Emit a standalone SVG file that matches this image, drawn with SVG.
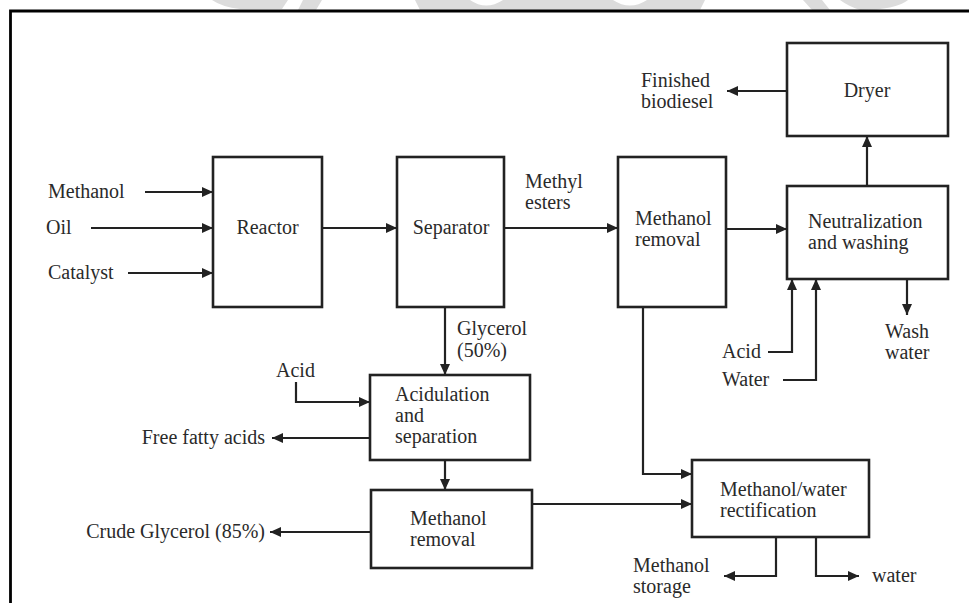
<svg xmlns="http://www.w3.org/2000/svg" width="969" height="603" viewBox="0 0 969 603">
<style>
.box{fill:#fff;stroke:#222;stroke-width:2.6}
.ln{fill:none;stroke:#222;stroke-width:2.2}
.arr{marker-end:url(#ah)}
text{font-family:"Liberation Serif","Times New Roman",serif;font-size:20px;fill:#2a2a2a}
.c{text-anchor:middle}
.e{text-anchor:end}
.wm{fill:#dcdcdc}
</style>
<defs>
<marker id="ah" markerUnits="userSpaceOnUse" markerWidth="11" markerHeight="10" refX="11" refY="5" orient="auto">
<path d="M0,0 L11,5 L0,10 Z" fill="#222"/>
</marker>
</defs>
<rect x="0" y="0" width="969" height="603" fill="#fff"/>
<g id="watermark">
<path class="wm" d="M212,0 H288 L282,9 H240 Q222,7 212,0 Z"/>
<path class="wm" d="M303,0 H322 L316,10 H298 Z"/>
<path class="wm" d="M415,0 H470 Q486,11 503,0 H613 Q630,11 647,0 H705 L700,10 H420 Z"/>
<path class="wm" d="M803,0 H822 L830,10 H812 Z"/>
<path class="wm" d="M840,0 H908 Q896,10 860,10 Q848,6 840,0 Z"/>
</g>
<g id="frame">
<path d="M10.5,603 V11 H969" fill="none" stroke="#000" stroke-width="2.8"/>
</g>
<g id="connectors">
<path class="ln arr" d="M145,192 H213"/>
<path class="ln arr" d="M91,228 H213"/>
<path class="ln arr" d="M128,273 H213"/>
<path class="ln arr" d="M322,228 H397"/>
<path class="ln arr" d="M504,228 H618"/>
<path class="ln arr" d="M726,229 H787"/>
<path class="ln arr" d="M867,186 V136"/>
<path class="ln arr" d="M787,91 H727"/>
<path class="ln arr" d="M768,352 H792 V279"/>
<path class="ln arr" d="M783,380 H816 V279"/>
<path class="ln arr" d="M907,279 V315"/>
<path class="ln arr" d="M445,307 V375"/>
<path class="ln arr" d="M296,382 V402 H370"/>
<path class="ln arr" d="M370,438 H272"/>
<path class="ln arr" d="M445,460 V490"/>
<path class="ln arr" d="M371,532 H270"/>
<path class="ln arr" d="M532,504 H692"/>
<path class="ln arr" d="M643,307 V474 H692"/>
<path class="ln arr" d="M776,537 V576 H724"/>
<path class="ln arr" d="M816,537 V576 H859"/>
</g>
<g id="reactor">
<rect class="box" x="213" y="157" width="109" height="150"/>
<text class="c" x="267.5" y="234">Reactor</text>
</g>
<g id="separator">
<rect class="box" x="397" y="157" width="107" height="150"/>
<text class="c" x="451" y="234">Separator</text>
</g>
<g id="methanol-removal-1">
<rect class="box" x="618" y="157" width="108" height="150"/>
<text x="635" y="225">Methanol</text>
<text x="635" y="246">removal</text>
</g>
<g id="dryer">
<rect class="box" x="787" y="43" width="161" height="93"/>
<text class="c" x="867" y="97">Dryer</text>
</g>
<g id="neutralization">
<rect class="box" x="787" y="186" width="161" height="93"/>
<text x="808" y="228">Neutralization</text>
<text x="808" y="249">and washing</text>
</g>
<g id="acidulation">
<rect class="box" x="370" y="375" width="160" height="85"/>
<text x="395" y="401">Acidulation</text>
<text x="395" y="422">and</text>
<text x="395" y="443">separation</text>
</g>
<g id="methanol-removal-2">
<rect class="box" x="371" y="490" width="161" height="78"/>
<text x="410" y="525">Methanol</text>
<text x="410" y="546">removal</text>
</g>
<g id="rectification">
<rect class="box" x="692" y="460" width="177" height="77"/>
<text x="720" y="496">Methanol/water</text>
<text x="720" y="517">rectification</text>
</g>
<g id="labels">
<text x="48" y="198">Methanol</text>
<text x="46" y="234">Oil</text>
<text x="48" y="279">Catalyst</text>
<text x="525" y="188">Methyl</text>
<text x="525" y="209">esters</text>
<text x="641" y="87">Finished</text>
<text x="641" y="108">biodiesel</text>
<text x="722" y="358">Acid</text>
<text x="722" y="386">Water</text>
<text x="885" y="338">Wash</text>
<text x="885" y="359">water</text>
<text x="457" y="335">Glycerol</text>
<text x="457" y="357">(50%)</text>
<text x="276" y="377">Acid</text>
<text class="e" x="265" y="444">Free fatty acids</text>
<text class="e" x="265" y="538">Crude Glycerol (85%)</text>
<text x="633" y="572">Methanol</text>
<text x="633" y="593">storage</text>
<text x="872" y="582">water</text>
</g>
</svg>
